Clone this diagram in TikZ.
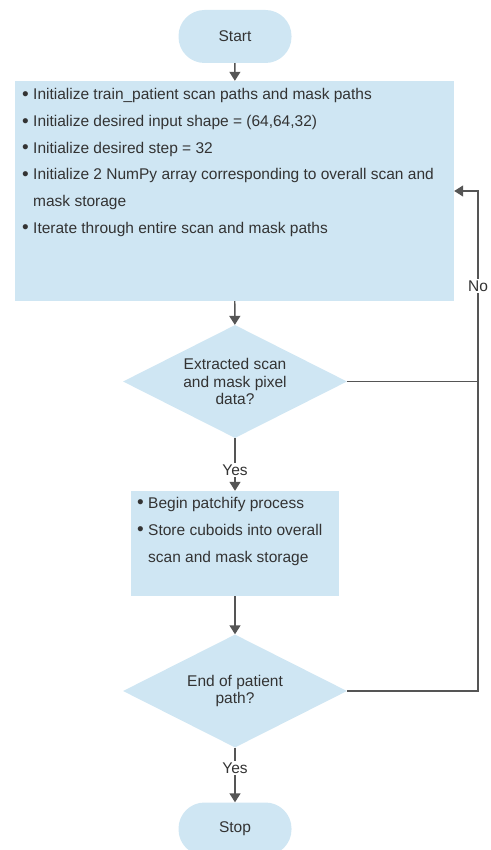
\documentclass[tikz,border=0pt]{standalone}
\usepackage{fontspec}
\setmainfont{Liberation Sans}
\usetikzlibrary{shapes.geometric,arrows.meta}
\definecolor{boxfill}{HTML}{CFE6F3}
\definecolor{ink}{HTML}{333333}
\definecolor{wire}{HTML}{555555}
\tikzset{
  txt/.style={text=ink, font=\fontsize{15.5}{17.5}\selectfont},
  terminal/.style={txt, fill=boxfill, draw=none, rectangle, rounded corners=26pt,
    minimum width=113pt, minimum height=53pt},
  procbox/.style={fill=boxfill, draw=none, rectangle, inner sep=0pt},
  decision/.style={txt, fill=boxfill, draw=none, diamond, aspect=1.98, inner sep=0pt,
    minimum width=224pt, minimum height=113pt, align=center},
  item/.style={txt, inner sep=0pt, anchor=base west},
  flow/.style={draw=wire, line width=1.4pt, -{Triangle[length=9pt,width=11pt]}},
  wireline/.style={draw=wire, line width=1.4pt},
  tag/.style={txt, fill=white, inner sep=1.5pt}
}
\newcommand{\bul}{\makebox[11pt][l]{\raisebox{-0.5pt}{\fontsize{19}{19}\selectfont\textbullet}}}
\newcommand{\gap}{\hspace*{11pt}}
\begin{document}
\begin{tikzpicture}[x=1pt, y=-1pt]
  \useasboundingbox (0,0) rectangle (490,850);

  % terminals
  \node[terminal] (start) at (235,36.5) {Start};
  \node[terminal] (stop) at (235,829) {Stop};

  % initialisation block
  \node[procbox, minimum width=439pt, minimum height=220pt] (init) at (234.5,191) {};
  \node[item] (i1) at (22,100)   {\bul Initialize train\_patient scan paths and mask paths};
  \node[item] (i2) at (22,126.7) {\bul Initialize desired input shape = (64,64,32)};
  \node[item] (i3) at (22,153.3) {\bul Initialize desired step = 32};
  \node[item] (i4) at (22,180)   {\bul Initialize 2 NumPy array corresponding to overall scan and};
  \node[item] (i5) at (22,206.7) {\gap mask storage};
  \node[item] (i6) at (22,233.3) {\bul Iterate through entire scan and mask paths};

  % decisions
  \node[decision] (extract) at (235,381.5) {Extracted scan\\and mask pixel\\data?};
  \node[decision] (endpath) at (235,691) {End of patient\\path?};

  % patchify block
  \node[procbox, minimum width=208pt, minimum height=105pt] (patch) at (235,543.5) {};
  \node[item] (p1) at (137,508) {\bul Begin patchify process};
  \node[item] (p2) at (137,535) {\bul Store cuboids into overall};
  \node[item] (p3) at (137,562) {\gap scan and mask storage};

  % loop rail on the right
  \coordinate (rail) at (478,381.5);

  % main flow
  \draw[flow] (start) -- (init);
  \draw[flow] (init) -- (extract);
  \draw[flow] (extract) -- (patch);
  \draw[flow] (patch) -- (endpath);
  \draw[flow] (endpath) -- (stop);

  % "No" branches back to the initialisation block
  \draw[wireline] (endpath.east) -| (rail);
  \draw[flow] (extract.east) -- (rail) |- (init.east);

  % branch labels
  \node[tag] (yes1) at (235,470) {Yes};
  \node[tag] (yes2) at (235,768) {Yes};
  \node[tag] (no) at (478,286) {No};
\end{tikzpicture}
\end{document}
